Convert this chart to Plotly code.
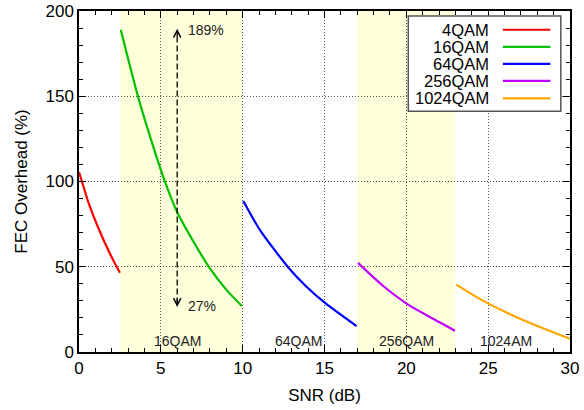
import plotly.graph_objects as go

# ---- data ----
names = ["4QAM", "16QAM", "64QAM", "256QAM", "1024QAM"]
x_4qam = [0.0, 0.18, 0.6, 1.28, 1.8, 2.3, 2.5]
y_4qam = [105.5, 100.0, 87.0, 70.5, 59.5, 50.0, 46.5]
x_16qam = [2.55, 3.6, 4.42, 5.23, 6.0, 6.98, 8.0, 9.02, 9.95]
y_16qam = [189.0, 150.0, 124.0, 100.5, 82.0, 65.0, 49.0, 36.3, 27.0]
x_64qam = [10.04, 11.06, 12.79, 13.9, 15.07, 16.96]
y_64qam = [88.6, 71.5, 49.6, 38.3, 28.5, 15.2]
x_256qam = [17.05, 18.59, 20.06, 21.44, 22.97]
y_256qam = [52.3, 38.7, 28.1, 20.5, 12.5]
x_1024qam = [23.05, 24.7, 26.84, 29.4, 30.0]
y_1024qam = [39.5, 30.0, 20.0, 10.0, 7.8]

region_labels = ["16QAM", "64QAM", "256QAM", "1024AM"]
region_label_x = [6.0, 13.4, 20.0, 26.1]
shaded_ranges = [(2.5, 10.0), (17.0, 23.0)]
arrow_top, arrow_bottom, arrow_x = 189, 27, 6.0

xs = [x_4qam, x_16qam, x_64qam, x_256qam, x_1024qam]
ys = [y_4qam, y_16qam, y_64qam, y_256qam, y_1024qam]
colors = ["#ff0000", "#00c000", "#0000ff", "#c000ff", "#ffa500"]

FONT = "Liberation Sans, Arial, sans-serif"

fig = go.Figure()
for nm, x, y, c in zip(names, xs, ys, colors):
    fig.add_trace(go.Scatter(x=x, y=y, mode="lines", name=nm,
                             line=dict(color=c, width=2.2, shape="spline", smoothing=0.7),
                             showlegend=False))

shapes = []
for a, b in shaded_ranges:
    shapes.append(dict(type="rect", xref="x", yref="y", x0=a, x1=b, y0=0, y1=200,
                       fillcolor="#ffffdc", line=dict(width=0), layer="below"))
# dashed double arrow line
shapes.append(dict(type="line", xref="x", yref="y", x0=arrow_x, x1=arrow_x,
                   y0=arrow_bottom + 1.5, y1=arrow_top - 1.5,
                   line=dict(color="black", width=1.3, dash="6px,3px")))

# manual gnuplot-style legend (text right, sample line on right)
lg_x0, lg_x1, lg_y0, lg_y1 = 20.12, 29.44, 141.2, 197.0
shapes.append(dict(type="rect", xref="x", yref="y", x0=lg_x0, x1=lg_x1, y0=lg_y0, y1=lg_y1,
                   fillcolor="white", line=dict(color="#555555", width=1.5), layer="above"))
row_y = [189.0, 179.0, 169.0, 159.0, 148.8]
annotations = []
for nm, c, ry in zip(names, colors, row_y):
    shapes.append(dict(type="line", xref="x", yref="y", x0=25.9, x1=28.8, y0=ry, y1=ry,
                       line=dict(color=c, width=2.2), layer="above"))
    annotations.append(dict(x=25.15, y=ry, xref="x", yref="y", text=nm, showarrow=False,
                            xanchor="right", yanchor="middle",
                            font=dict(family=FONT, size=16.5, color="black")))

for lab, lx in zip(region_labels, region_label_x):
    annotations.append(dict(x=lx, y=6.4, xref="x", yref="y", text=lab, showarrow=False,
                            xanchor="center", yanchor="middle",
                            font=dict(family=FONT, size=14, color="#222222")))

# arrow heads
annotations.append(dict(x=arrow_x, y=arrow_top + 0.6, ax=arrow_x, ay=arrow_top - 5, xref="x", yref="y",
                        axref="x", ayref="y", text="", showarrow=True, arrowhead=5,
                        arrowsize=1.1, arrowwidth=1.3, arrowcolor="black"))
annotations.append(dict(x=arrow_x, y=arrow_bottom - 0.6, ax=arrow_x, ay=arrow_bottom + 5, xref="x", yref="y",
                        axref="x", ayref="y", text="", showarrow=True, arrowhead=5,
                        arrowsize=1.1, arrowwidth=1.3, arrowcolor="black"))
annotations.append(dict(x=6.55, y=arrow_top, xref="x", yref="y", text=f"{arrow_top}%", showarrow=False,
                        xanchor="left", yanchor="middle", font=dict(family=FONT, size=14, color="#222222")))
annotations.append(dict(x=6.55, y=arrow_bottom, xref="x", yref="y", text=f"{arrow_bottom}%", showarrow=False,
                        xanchor="left", yanchor="middle", font=dict(family=FONT, size=14, color="#222222")))

axis_common = dict(showline=True, linecolor="black", linewidth=1.5, mirror="allticks",
                   ticks="inside", ticklen=7, tickwidth=1, tickcolor="black",
                   showgrid=True, gridcolor="#555555", gridwidth=1, griddash="1px,2px",
                   zeroline=False, automargin=False,
                   tickfont=dict(family=FONT, size=17, color="black"))

fig.update_layout(
    width=584, height=410,
    margin=dict(l=79, r=14, t=11, b=58, autoexpand=False),
    plot_bgcolor="white", paper_bgcolor="white",
    shapes=shapes, annotations=annotations,
    xaxis=dict(range=[0, 30], dtick=5, tick0=0,
               minor=dict(dtick=1, ticks="inside", ticklen=4, tickcolor="black", showgrid=False),
               title=dict(text="SNR (dB)", font=dict(family=FONT, size=17, color="black"), standoff=12),
               **axis_common),
    yaxis=dict(range=[0, 200], dtick=50, tick0=0,
               minor=dict(dtick=10, ticks="inside", ticklen=4, tickcolor="black", showgrid=False),
               title=dict(text="FEC Overhead (%)", font=dict(family=FONT, size=17, color="black"), standoff=14),
               **axis_common),
)
fig.write_html("out.html")
